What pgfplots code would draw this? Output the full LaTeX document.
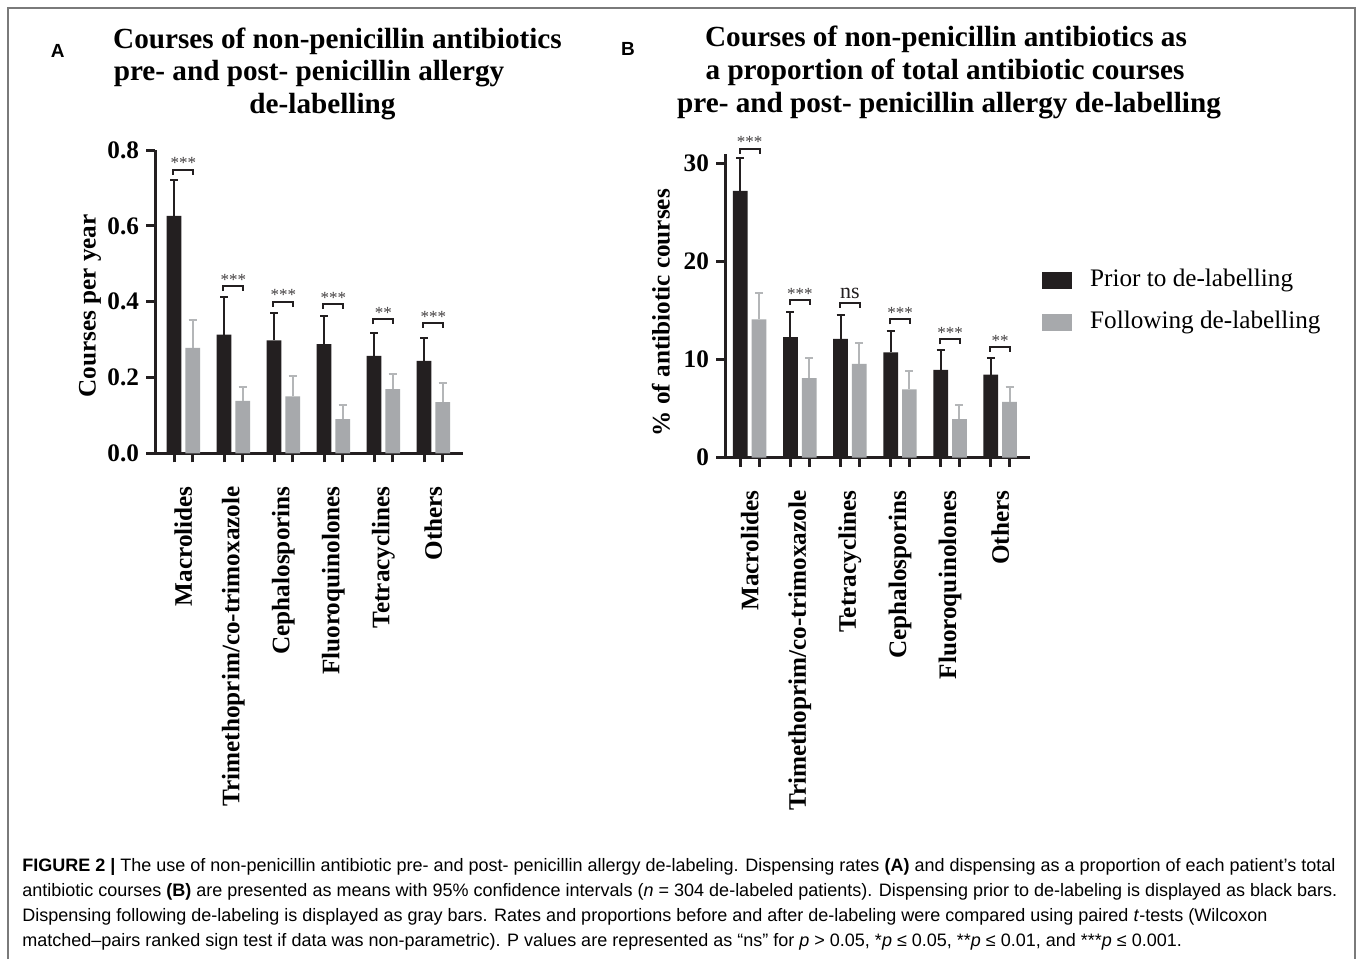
\documentclass[border=0pt]{standalone}
\usepackage{fontspec}
\setmainfont{Liberation Serif}
\newfontfamily\capfont{Liberation Sans}
\usepackage{pgfplots}
\pgfplotsset{compat=1.18}
\definecolor{barblack}{HTML}{231F20}
\definecolor{bargray}{HTML}{A7A9AC}
\definecolor{errgray}{HTML}{B4B6B8}
\definecolor{framegray}{HTML}{7A7A7A}
\newcommand{\pxy}[2]{({#1*0.5pt},{(959-#2)*0.5pt})}
\newcommand{\lab}{\bfseries\fontsize{12.6}{15}\selectfont}
\newcommand{\ttl}{\bfseries\fontsize{14.6}{16.5}\selectfont}
\newcommand{\capf}{\capfont\fontsize{9.0}{10}\selectfont}
\tikzset{
  brk/.style={line width=1pt, color=barblack},
  stars/.style={font=\fontsize{8.5}{9}\selectfont, color=barblack!85, anchor=base, inner sep=0pt, yshift=0.4pt},
  nsl/.style={font=\fontsize{11}{12}\selectfont, color=barblack, anchor=base, inner sep=0pt, yshift=2pt},
}
\pgfplotsset{
  panel/.style={
    scale only axis, clip=false,
    axis x line*=bottom, axis y line*=left,
    axis line style={line width=1.5pt, color=barblack},
    tick style={line width=1.5pt, color=barblack},
    tick align=outside, major tick length=4.5pt, minor tick length=4.5pt,
    ymin=0,
    xtick={0,1,2,3,4,5},
    minor xtick={-0.187,0.187,0.813,1.187,1.813,2.187,2.813,3.187,3.813,4.187,4.813,5.187},
    major x tick style={draw=none},
    xticklabel style={yshift=-8.5pt, rotate=90, anchor=east},
    tick label style={font=\lab},
    /pgf/number format/assume math mode=true,
  },
  bk/.style={ybar, bar width=0.294, bar shift=0pt, fill=barblack, draw=none,
    error bars/.cd, y dir=plus, y explicit,
    error bar style={line width=1pt, color=barblack},
    error mark options={rotate=90, line width=1pt, color=barblack, mark size=2pt}},
  gy/.style={ybar, bar width=0.294, bar shift=0pt, fill=bargray, draw=none,
    error bars/.cd, y dir=plus, y explicit,
    error bar style={line width=1pt, color=errgray},
    error mark options={rotate=90, line width=1pt, color=errgray, mark size=2pt}},
}
\begin{document}
\begin{tikzpicture}
\useasboundingbox (0,0) rectangle (679pt,479.5pt);
\fill[white] (0,0) rectangle (679pt,479.5pt);
% frame
\draw[framegray, line width=1pt] \pxy{8}{959} -- \pxy{8}{8} -- \pxy{1355}{8} -- \pxy{1355}{959};

% panel labels
\node[font=\capfont\bfseries\fontsize{9.5}{10}\selectfont, inner sep=0pt] at \pxy{57.8}{50.8} {A};
\node[font=\capfont\bfseries\fontsize{9.5}{10}\selectfont, inner sep=0pt] at \pxy{628}{48.5} {B};

% titles
\node[font=\ttl, anchor=base, inner sep=0pt] at \pxy{337.5}{48.5} {Courses of non-penicillin antibiotics};
\node[font=\ttl, anchor=base, inner sep=0pt] at \pxy{309}{81} {pre- and post- penicillin allergy};
\node[font=\ttl, anchor=base, inner sep=0pt] at \pxy{322.5}{113.5} {de-labelling};
\node[font=\ttl, anchor=base, inner sep=0pt] at \pxy{946}{46.5} {Courses of non-penicillin antibiotics as};
\node[font=\ttl, anchor=base, inner sep=0pt] at \pxy{945}{79.5} {a proportion of total antibiotic courses};
\node[font=\ttl, anchor=base, inner sep=0pt] at \pxy{949}{113} {pre- and post- penicillin allergy de-labelling};

% ---------- Panel A ----------
\begin{axis}[panel,
  at={(77.5pt,252.85pt)}, anchor=south west,
  width=154.15pt, height=151.65pt,
  xmin=-0.567, xmax=5.599, ymax=0.8,
  ytick={0,0.2,0.4,0.6,0.8},
  yticklabel style={/pgf/number format/.cd, fixed, fixed zerofill, precision=1},
  xticklabels={Macrolides,Trimethoprim/co-trimoxazole,Cephalosporins,Fluoroquinolones,Tetracyclines,Others},
  ylabel={Courses per year},
  every axis y label/.style={at={(rel axis cs:-0.211,0.486)}, rotate=90, anchor=center, font=\lab},
]
\addplot[bk] coordinates {
  (-0.187,0.626) +- (0,0.096)
  (0.813,0.313)  +- (0,0.099)
  (1.813,0.298)  +- (0,0.071)
  (2.813,0.288)  +- (0,0.074)
  (3.813,0.257)  +- (0,0.059)
  (4.813,0.244)  +- (0,0.060)
};
\addplot[gy] coordinates {
  (0.187,0.278) +- (0,0.073)
  (1.187,0.138) +- (0,0.037)
  (2.187,0.150) +- (0,0.055)
  (3.187,0.090) +- (0,0.037)
  (4.187,0.169) +- (0,0.039)
  (5.187,0.135) +- (0,0.050)
};
\draw[brk] (axis cs:-0.2,0.735) |- (axis cs:0.2,0.748) -- (axis cs:0.2,0.735);
\node[stars] at (axis cs:0,0.748) {***};
\draw[brk] (axis cs:0.8,0.428) |- (axis cs:1.2,0.441) -- (axis cs:1.2,0.428);
\node[stars] at (axis cs:1,0.441) {***};
\draw[brk] (axis cs:1.8,0.387) |- (axis cs:2.2,0.400) -- (axis cs:2.2,0.387);
\node[stars] at (axis cs:2,0.400) {***};
\draw[brk] (axis cs:2.8,0.381) |- (axis cs:3.2,0.394) -- (axis cs:3.2,0.381);
\node[stars] at (axis cs:3,0.394) {***};
\draw[brk] (axis cs:3.8,0.340) |- (axis cs:4.2,0.353) -- (axis cs:4.2,0.340);
\node[stars] at (axis cs:4,0.353) {**};
\draw[brk] (axis cs:4.8,0.331) |- (axis cs:5.2,0.344) -- (axis cs:5.2,0.331);
\node[stars] at (axis cs:5,0.344) {***};
\end{axis}

% ---------- Panel B ----------
\begin{axis}[panel,
  at={(362.5pt,250.65pt)}, anchor=south west,
  width=152.5pt, height=152.1pt,
  xmin=-0.493, xmax=5.595, ymax=31,
  ytick={0,10,20,30},
  xticklabels={Macrolides,Trimethoprim/co-trimoxazole,Tetracyclines,Cephalosporins,Fluoroquinolones,Others},
  ylabel={\% of antibiotic courses},
  every axis y label/.style={at={(rel axis cs:-0.21,0.477)}, rotate=90, anchor=center, font=\lab},
  legend style={at={(rel axis cs:1.019,0.638)}, anchor=north west, draw=none, fill=none,
    font=\fontsize{12.6}{15}\selectfont,
    nodes={inner sep=0pt, text height=9pt, text depth=3pt},
    row sep=9pt,
    /tikz/every odd column/.append style={column sep=9pt}},
  legend cell align=left,
  legend image code/.code={\fill (0pt,-4.25pt) rectangle (15pt,4.25pt);},
]
\addplot[bk] coordinates {
  (-0.187,27.19) +- (0,3.31)
  (0.813,12.30)  +- (0,2.50)
  (1.813,12.10)  +- (0,2.40)
  (2.813,10.74)  +- (0,2.16)
  (3.813,8.94)   +- (0,2.01)
  (4.813,8.46)   +- (0,1.70)
};
\addlegendentry{Prior to de-labelling}
\addplot[gy] coordinates {
  (0.187,14.10) +- (0,2.70)
  (1.187,8.12)  +- (0,2.08)
  (2.187,9.55)  +- (0,2.11)
  (3.187,6.97)  +- (0,1.90)
  (4.187,3.94)  +- (0,1.43)
  (5.187,5.68)  +- (0,1.56)
};
\addlegendentry{Following de-labelling}
\draw[brk] (axis cs:-0.2,30.99) |- (axis cs:0.2,31.5) -- (axis cs:0.2,30.99);
\node[stars] at (axis cs:0,31.5) {***};
\draw[brk] (axis cs:0.8,15.56) |- (axis cs:1.2,16.07) -- (axis cs:1.2,15.56);
\node[stars] at (axis cs:1,16.07) {***};
\draw[brk] (axis cs:1.8,15.29) |- (axis cs:2.2,15.8) -- (axis cs:2.2,15.29);
\node[nsl] at (axis cs:2,15.8) {ns};
\draw[brk] (axis cs:2.8,13.59) |- (axis cs:3.2,14.1) -- (axis cs:3.2,13.59);
\node[stars] at (axis cs:3,14.1) {***};
\draw[brk] (axis cs:3.8,11.56) |- (axis cs:4.2,12.07) -- (axis cs:4.2,11.56);
\node[stars] at (axis cs:4,12.07) {***};
\draw[brk] (axis cs:4.8,10.79) |- (axis cs:5.2,11.3) -- (axis cs:5.2,10.79);
\node[stars] at (axis cs:5,11.3) {**};
\end{axis}

% caption
\node[font=\capf, anchor=base west, inner sep=0pt] at \pxy{22}{871} {\textbf{FIGURE 2 |} The use of non-penicillin antibiotic pre- and post- penicillin allergy de-labeling. Dispensing rates \textbf{(A)} and dispensing as a proportion of each patient’s total};
\node[font=\capf, anchor=base west, inner sep=0pt] at \pxy{22}{896} {antibiotic courses \textbf{(B)} are presented as means with 95\% confidence intervals (\textit{n} = 304 de-labeled patients). Dispensing prior to de-labeling is displayed as black bars.};
\node[font=\capf, anchor=base west, inner sep=0pt] at \pxy{22}{921.3} {Dispensing following de-labeling is displayed as gray bars. Rates and proportions before and after de-labeling were compared using paired \textit{t}-tests (Wilcoxon};
\node[font=\capf, anchor=base west, inner sep=0pt] at \pxy{22}{946.7} {matched–pairs ranked sign test if data was non-parametric). P values are represented as “ns” for \textit{p} > 0.05, *\textit{p} ≤ 0.05, **\textit{p} ≤ 0.01, and ***\textit{p} ≤ 0.001.};
\end{tikzpicture}
\end{document}
